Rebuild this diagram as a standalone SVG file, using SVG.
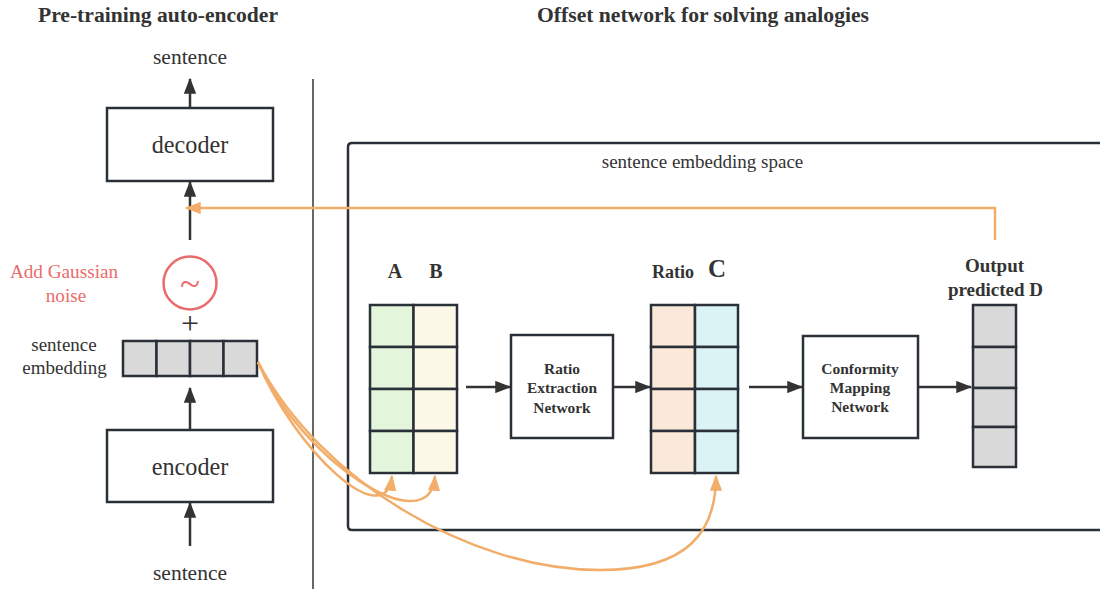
<svg xmlns="http://www.w3.org/2000/svg" width="1100" height="589" viewBox="0 0 1100 589">
<defs>
<marker id="ah" viewBox="0 0 13 10" refX="12" refY="5" markerWidth="6.4" markerHeight="5" orient="auto" markerUnits="strokeWidth"><path d="M0,0 L13,5 L0,10 z" fill="#333"/></marker>
<marker id="oh" viewBox="0 0 13 10" refX="12" refY="5" markerWidth="6.4" markerHeight="5" orient="auto" markerUnits="strokeWidth"><path d="M0,0 L13,5 L0,10 z" fill="#f2ad6a"/></marker>
</defs>
<style>
text{fill:#333;}
.t{font-size:21.6px;font-weight:bold;}
.b{font-weight:bold;}
.box{fill:#fff;stroke:#2a3038;stroke-width:2.5;}
.cell{stroke:#2a3038;stroke-width:2.5;}
.g{fill:#d9d9d9;}
.ln{stroke:#333;stroke-width:2.5;fill:none;marker-end:url(#ah);}
.or{stroke:#f2ad6a;stroke-width:2.5;fill:none;marker-end:url(#oh);}
.noise{fill:#ea6b6b;}
</style>
<rect width="1100" height="589" fill="#fff"/>
<g font-family="Liberation Serif, DejaVu Serif, serif">
<text class="t" x="158" y="22" text-anchor="middle">Pre-training auto-encoder</text>
<text class="t" x="703" y="22" text-anchor="middle">Offset network for solving analogies</text>
<line x1="313" y1="79" x2="313" y2="589" stroke="#333" stroke-width="1.5"/>
<g id="space">
<path d="M1104,143 H352 Q348,143 348,147 V526 Q348,530 352,530 H1104" fill="none" stroke="#2a3038" stroke-width="2.5"/>
<text x="702.5" y="168" font-size="19" text-anchor="middle">sentence embedding space</text>
</g>
<g id="sentence-out"><text x="190" y="64" font-size="21.5" text-anchor="middle">sentence</text></g>
<g id="decoder"><rect class="box" x="107" y="108" width="166" height="73"/><text x="190" y="153" font-size="24.2" text-anchor="middle">decoder</text></g>
<g id="noise">
<circle cx="190" cy="283" r="26.5" fill="#fff" stroke="#ea6b6b" stroke-width="2.5"/>
<text class="noise" x="190" y="296" font-size="37" text-anchor="middle">~</text>
<text class="noise" x="64" y="278" font-size="19.2" text-anchor="middle">Add Gaussian</text>
<text class="noise" x="66" y="302" font-size="19.2" text-anchor="middle">noise</text>
<text x="190" y="334" font-size="32" text-anchor="middle">+</text>
</g>
<g id="embedding">
<rect class="cell g" x="123" y="341" width="33.5" height="35"/>
<rect class="cell g" x="156.5" y="341" width="33.5" height="35"/>
<rect class="cell g" x="190" y="341" width="33.5" height="35"/>
<rect class="cell g" x="223.5" y="341" width="33.5" height="35"/>
<text x="64" y="351" font-size="19" text-anchor="middle">sentence</text>
<text x="64.5" y="374" font-size="19" text-anchor="middle">embedding</text>
</g>
<g id="encoder"><rect class="box" x="107" y="430" width="166" height="72"/><text x="190" y="475" font-size="24.2" text-anchor="middle">encoder</text></g>
<g id="sentence-in"><text x="190" y="580" font-size="21.5" text-anchor="middle">sentence</text></g>
<g id="AB">
<text class="b" x="395" y="278" font-size="20" text-anchor="middle">A</text>
<text class="b" x="436" y="278" font-size="20" text-anchor="middle">B</text>
<g fill="#e3f5da">
<rect class="cell" x="370" y="305" width="43.5" height="42"/><rect class="cell" x="370" y="347" width="43.5" height="42"/><rect class="cell" x="370" y="389" width="43.5" height="42"/><rect class="cell" x="370" y="431" width="43.5" height="42"/>
</g>
<g fill="#fcf8e8">
<rect class="cell" x="413.5" y="305" width="43.5" height="42"/><rect class="cell" x="413.5" y="347" width="43.5" height="42"/><rect class="cell" x="413.5" y="389" width="43.5" height="42"/><rect class="cell" x="413.5" y="431" width="43.5" height="42"/>
</g>
</g>
<g id="ratio-extraction">
<rect class="box" x="511" y="335" width="102" height="103"/>
<text class="b" x="562" y="374" font-size="15.4" text-anchor="middle">Ratio</text>
<text class="b" x="562" y="393" font-size="15.4" text-anchor="middle">Extraction</text>
<text class="b" x="562" y="413" font-size="15.4" text-anchor="middle">Network</text>
</g>
<g id="RC">
<text class="b" x="673" y="278" font-size="18" text-anchor="middle">Ratio</text>
<text class="b" x="717" y="277" font-size="25" text-anchor="middle">C</text>
<g fill="#fae8d8">
<rect class="cell" x="651" y="305" width="44" height="42"/><rect class="cell" x="651" y="347" width="44" height="42"/><rect class="cell" x="651" y="389" width="44" height="42"/><rect class="cell" x="651" y="431" width="44" height="42"/>
</g>
<g fill="#dcf3f5">
<rect class="cell" x="695" y="305" width="43" height="42"/><rect class="cell" x="695" y="347" width="43" height="42"/><rect class="cell" x="695" y="389" width="43" height="42"/><rect class="cell" x="695" y="431" width="43" height="42"/>
</g>
</g>
<g id="conformity-mapping">
<rect class="box" x="803" y="336" width="115" height="102"/>
<text class="b" x="860" y="374" font-size="15.5" text-anchor="middle">Conformity</text>
<text class="b" x="860" y="393" font-size="15.5" text-anchor="middle">Mapping</text>
<text class="b" x="860" y="412" font-size="15.5" text-anchor="middle">Network</text>
</g>
<g id="D">
<text class="b" x="994.5" y="272" font-size="19" text-anchor="middle">Output</text>
<text class="b" x="995.5" y="296" font-size="19" text-anchor="middle">predicted D</text>
<g class="g">
<rect class="cell" x="973" y="305" width="43" height="42"/><rect class="cell" x="973" y="347" width="43" height="41"/><rect class="cell" x="973" y="388" width="43" height="39"/><rect class="cell" x="973" y="427" width="43" height="40"/>
</g>
</g>
<g id="connectors">
<line class="ln" x1="190" y1="108" x2="190" y2="79"/>
<line class="ln" x1="190" y1="240" x2="190" y2="182"/>
<line class="ln" x1="190" y1="430" x2="190" y2="388"/>
<line class="ln" x1="190" y1="546" x2="190" y2="503"/>
<line class="ln" x1="466" y1="387" x2="510" y2="387"/>
<line class="ln" x1="614" y1="387" x2="650" y2="387"/>
<line class="ln" x1="749" y1="387" x2="802" y2="387"/>
<line class="ln" x1="919" y1="387" x2="971" y2="387"/>
<path class="or" d="M995,240 V208 H186"/>
<path class="or" d="M258,362 C295,450 385,535 392,476"/>
<path class="or" d="M258,362 C300,460 430,545 435,476"/>
<path class="or" d="M258,362 C320,480 470,570 600,570 C690,570 716,530 716,476"/>
</g>
</g>
</svg>
